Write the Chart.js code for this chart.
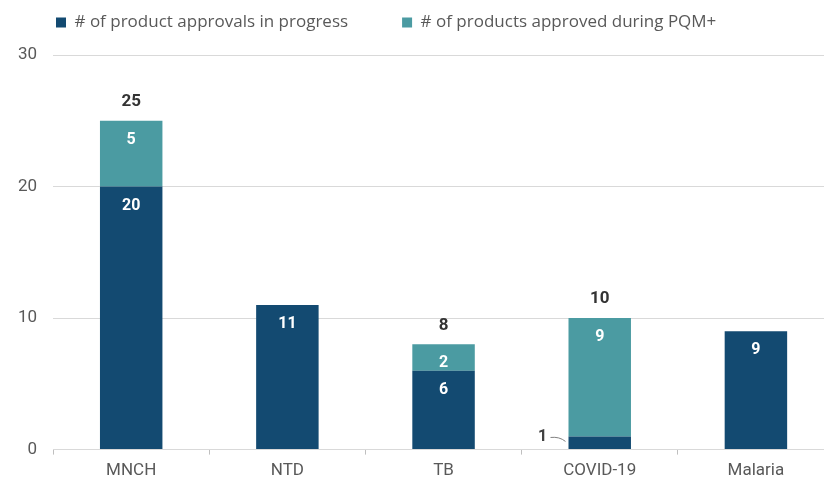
<!DOCTYPE html>
<html>
<head>
<meta charset="utf-8">
<script src="https://cdn.jsdelivr.net/npm/chart.js@4"></script>
<style>
  body { margin: 0; background: #fff; }
  #wrap { width: 824px; height: 487px; position: relative; }
</style>
</head>
<body>
<div id="wrap"><canvas id="chartBar"></canvas></div>
<script>
  const categories = ['MNCH', 'NTD', 'TB', 'COVID-19', 'Malaria'];
  const inProgress = [20, 11, 6, 1, 9];
  const approved = [5, null, 2, 9, null];
  const yTicks = [0, 10, 20, 30];

  const navy = '#134a71';
  const teal = '#4b9ba2';

  // values inside the bars, totals on top, small values pulled out with a leader line
  const barLabels = {
    id: 'barLabels',
    afterDatasetsDraw(chart) {
      const ctx = chart.ctx;
      ctx.save();
      ctx.textAlign = 'center';
      ctx.textBaseline = 'middle';
      chart.data.datasets.forEach((ds, i) => {
        const meta = chart.getDatasetMeta(i);
        meta.data.forEach((bar, j) => {
          const v = ds.data[j];
          if (v == null) return;
          if (v < 2) {
            const left = bar.x - bar.width / 2;
            ctx.font = 'bold 16px Roboto';
            ctx.fillStyle = '#404040';
            ctx.fillText(v, left - 26, bar.y + 1);
            ctx.strokeStyle = '#7f7f7f';
            ctx.lineWidth = 1;
            ctx.beginPath();
            ctx.moveTo(left - 18, bar.y + 1);
            ctx.quadraticCurveTo(left - 9, bar.y, left - 3, bar.y + 5);
            ctx.stroke();
            return;
          }
          ctx.font = 'bold 16px Roboto';
          ctx.fillStyle = '#ffffff';
          ctx.fillText(v, bar.x, bar.y + 19);
        });
      });
      // totals where both series are present
      const top = chart.getDatasetMeta(1);
      categories.forEach((c, j) => {
        if (approved[j] == null) return;
        const total = inProgress[j] + approved[j];
        const bar = top.data[j];
        ctx.font = 'bold 17px Roboto';
        ctx.fillStyle = '#333333';
        ctx.fillText(total, bar.x, bar.y - 19);
      });
      ctx.restore();
    }
  };

  // fixed legend height so the plot starts right below it
  const legendHeight = {
    id: 'legendHeight',
    beforeInit(chart) {
      const fit = chart.legend.fit;
      chart.legend.fit = function () {
        fit.bind(chart.legend)();
        this.height = 95;
      };
    }
  };

  // let the category axis run a little past the right edge
  const widenX = {
    id: 'widenX',
    afterLayout(chart) {
      const x = chart.scales.x;
      x.right += 10;
      x.width += 10;
      x.configure();
      chart.chartArea.right = x.right;
      chart.chartArea.width = x.right - chart.chartArea.left;
    }
  };

  const ctxBar = document.getElementById('chartBar');
  new Chart(ctxBar, {
    type: 'bar',
    data: {
      labels: categories,
      datasets: [
        {
          label: '# of product approvals in progress',
          data: inProgress,
          backgroundColor: navy,
          borderWidth: 0
        },
        {
          label: '# of products approved during PQM+',
          data: approved,
          backgroundColor: teal,
          borderWidth: 0
        }
      ]
    },
    options: {
      responsive: true,
      maintainAspectRatio: false,
      animation: false,
      categoryPercentage: 1,
      barPercentage: 0.4,
      layout: {
        padding: { left: 2, right: 0, top: -40, bottom: 0 }
      },
      plugins: {
        legend: {
          display: true,
          position: 'top',
          align: 'start',
          labels: {
            color: '#595959',
            font: { family: 'Open Sans', size: 17 },
            boxWidth: 10,
            boxHeight: 10,
            padding: 54
          }
        },
        tooltip: { enabled: false }
      },
      scales: {
        x: {
          stacked: true,
          grid: {
            display: true,
            offset: true,
            drawOnChartArea: false,
            tickLength: 5,
            color: '#bfbfbf'
          },
          border: { display: false },
          ticks: {
            color: '#595959',
            font: { family: 'Roboto', size: 17 },
            padding: 6
          }
        },
        y: {
          stacked: true,
          min: 0,
          max: 30,
          afterBuildTicks: (axis) => { axis.ticks = yTicks.map(v => ({ value: v })); },
          grid: {
            color: '#d9d9d9',
            drawTicks: false
          },
          border: { display: false },
          ticks: {
            color: '#595959',
            font: { family: 'Roboto', size: 17 },
            padding: 16
          }
        }
      }
    },
    plugins: [barLabels, legendHeight, widenX]
  });
</script>
</body>
</html>
